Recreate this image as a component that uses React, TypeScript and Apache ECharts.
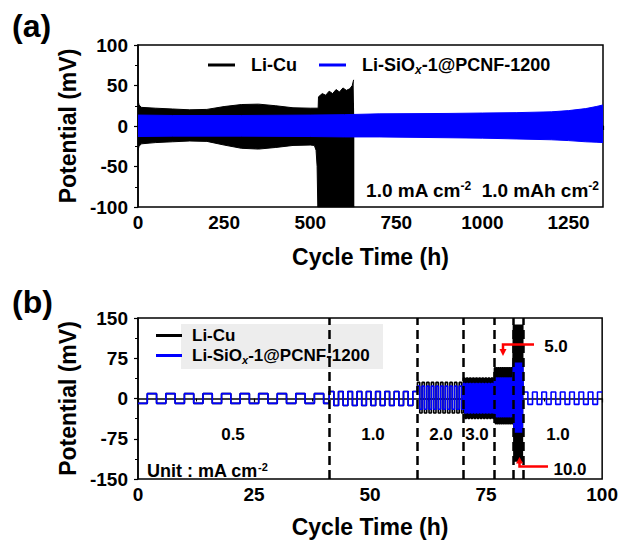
import React, { useEffect, useRef } from 'react';
import * as echarts from 'echarts';

const FONT = '"Liberation Sans", Arial, Helvetica, sans-serif';
const CU = 'Li-Cu';
const SI = 'Li-SiOx-1@PCNF-1200';
const BLUE = '#0000ff';

// ---------- Panel (a): long-term cycling envelopes ----------
const aXMax = 1350;
const aCuUpperT = [0, 3, 10, 50, 100, 150, 200, 250, 300, 350, 400, 450, 500, 523, 524, 535, 545, 555, 565, 575, 585, 595, 605, 615, 622, 626, 628];
const aCuUpperV = [32, 26, 23, 22, 21, 20, 20.5, 24, 26.5, 27, 25, 22.5, 22, 22, 36, 40, 38, 43, 40, 45, 42, 47, 44, 46, 50, 57, 57];
const aCuLowerT = [0, 3, 10, 50, 100, 150, 200, 250, 300, 350, 400, 450, 500, 512, 517, 520, 522, 628];
const aCuLowerV = [-30, -25, -22, -20.5, -19.5, -18.5, -19, -23.5, -27.5, -28.5, -26.5, -24, -23.5, -24, -30, -50, -100, -100];
const aSiT = [0, 100, 300, 500, 600, 700, 900, 1000, 1100, 1200, 1250, 1300, 1330, 1350];
const aSiUpperV = [13.5, 13, 13, 13.5, 14, 15, 15.5, 16, 16.5, 17.5, 19, 21.5, 24, 26];
const aSiLowerV = [-13, -12.5, -12.5, -13, -13.5, -13.5, -14.5, -15, -16, -17, -18, -19.5, -20, -20.5];

// ---------- Panel (b): rate test ----------
const bBounds = [0, 41.2, 60.2, 70.1, 76.8, 80.9, 83.0, 100];
const bRates = [0.5, 1.0, 2.0, 3.0, 5.0, 10.0, 1.0];
const bCapacity = 1.0; // mAh cm-2 per half cycle
const bFirstHigh = [false, true, true, true, true, true, true];
const bSiHigh = [9, 13, 23, 28, 38, 67, 12];
const bSiLow = [-9, -13, -20, -27, -34, -64, -11];
const bCuHigh = [9, 13, 30, 38, 57, 138, null];
const bCuLow = [-9, -13, -27, -37, -47, -118, null];

const zip = (t: number[], v: number[]) => t.map((x, i) => [x, v[i]]);

function steps(high: (number | null)[], low: (number | null)[]) {
  const pts: number[][] = [];
  for (let i = 0; i < bRates.length; i++) {
    if (high[i] == null || low[i] == null) continue;
    const half = bCapacity / bRates[i];
    const end = bBounds[i + 1];
    let t = bBounds[i];
    let up = bFirstHigh[i];
    while (t < end - 1e-9) {
      const tn = Math.min(t + half, end);
      const v = (up ? high[i] : low[i]) as number;
      pts.push([t, v], [tn, v]);
      t = tn;
      up = !up;
    }
  }
  return pts;
}

const axisText = { color: '#000', fontFamily: FONT, fontWeight: 'bold' as const, fontSize: 19 };
const nameText = { color: '#000', fontFamily: FONT, fontWeight: 'bold' as const, fontSize: 23 };

function xAxis(gridIndex: number, max: number, interval: number, showMax: boolean, gap: number) {
  return {
    type: 'value', gridIndex, min: 0, max, interval,
    name: 'Cycle Time (h)', nameLocation: 'middle', nameGap: gap, nameTextStyle: nameText,
    axisLine: { show: true, lineStyle: { color: '#000', width: 1.5 } },
    axisTick: { show: true, inside: false, length: 4, lineStyle: { color: '#000', width: 1.2 } },
    minorTick: { show: true, splitNumber: 2, length: 3, lineStyle: { color: '#000', width: 1 } },
    axisLabel: { ...axisText, margin: 6, showMaxLabel: showMax, formatter: (v: number) => String(v) },
    splitLine: { show: false },
  };
}
function yAxis(gridIndex: number, min: number, max: number, interval: number) {
  return {
    type: 'value', gridIndex, min, max, interval,
    name: 'Potential (mV)', nameLocation: 'middle', nameGap: 55, nameTextStyle: nameText,
    axisLine: { show: true, lineStyle: { color: '#000', width: 1.5 } },
    axisTick: { show: true, inside: false, length: 4, lineStyle: { color: '#000', width: 1.2 } },
    minorTick: { show: true, splitNumber: 2, length: 3, lineStyle: { color: '#000', width: 1 } },
    axisLabel: { ...axisText, margin: 10, formatter: (v: number) => String(v) },
    splitLine: { show: false },
  };
}

const legendRich = {
  n: { fontFamily: FONT, fontWeight: 'bold', fontSize: 18, color: '#000' },
  s: { fontFamily: FONT, fontWeight: 'bold', fontStyle: 'italic', fontSize: 12, color: '#000', padding: [9, 0, 0, 0] },
};
const legendFormatter = (name: string) =>
  name === SI ? '{n|Li-SiO}{s|x}{n|-1@PCNF-1200}' : '{n|' + name + '}';

const supRich = (size: number) => ({
  t: { fontFamily: FONT, fontWeight: 'bold', fontSize: size, fill: '#000' },
  p: { fontFamily: FONT, fontWeight: 'bold', fontSize: Math.round(size * 0.62), fill: '#000', padding: [0, 0, 9, 0] },
});

function txt(x: number, y: number, text: string, size = 17, align = 'center') {
  return {
    type: 'text', x, y, z: 10,
    style: { text, fontFamily: FONT, fontWeight: 'bold', fontSize: size, fill: '#000', align, verticalAlign: 'middle' },
  };
}

export default function App() {
  const ref = useRef<HTMLDivElement>(null);
  useEffect(() => {
    if (!ref.current) return;
    const chart = echarts.init(ref.current, null, { renderer: 'svg' });
    const red = '#ff0000';
    const option: any = {
      animation: false,
      backgroundColor: '#fff',
      grid: [
        { left: 138, top: 45, width: 465, height: 162, show: true, borderColor: '#000', borderWidth: 1.5, backgroundColor: 'transparent' },
        { left: 138, top: 318, width: 465, height: 161, show: true, borderColor: '#000', borderWidth: 1.5, backgroundColor: 'transparent' },
      ],
      xAxis: [xAxis(0, aXMax, 250, false, 38), xAxis(1, 100, 25, true, 36)],
      yAxis: [yAxis(0, -100, 100, 50), yAxis(1, -150, 150, 75)],
      legend: [
        {
          data: [CU, SI], left: 203, top: 51, orient: 'horizontal', itemWidth: 27, itemHeight: 3, itemGap: 22,
          icon: 'rect', formatter: legendFormatter,
          textStyle: { rich: legendRich, padding: [0, 0, 0, 11] },
        },
        {
          data: [CU, SI], left: 151, top: 322, orient: 'vertical', itemWidth: 26, itemHeight: 3, itemGap: 3,
          icon: 'rect', formatter: legendFormatter,
          textStyle: { rich: { n: { ...legendRich.n, fontSize: 17 }, s: { ...legendRich.s, fontSize: 11, padding: [8, 0, 0, 0] } }, padding: [0, 0, 0, 5] },
        },
      ],
      series: [
        { name: CU, type: 'line', xAxisIndex: 0, yAxisIndex: 0, showSymbol: false, symbol: 'none', color: '#000',
          lineStyle: { width: 1, color: '#000' }, areaStyle: { color: '#000', opacity: 1 }, data: zip(aCuUpperT, aCuUpperV) },
        { name: CU, type: 'line', xAxisIndex: 0, yAxisIndex: 0, showSymbol: false, symbol: 'none', color: '#000',
          lineStyle: { width: 1, color: '#000' }, areaStyle: { color: '#000', opacity: 1 }, data: zip(aCuLowerT, aCuLowerV) },
        { name: SI, type: 'line', xAxisIndex: 0, yAxisIndex: 0, showSymbol: false, symbol: 'none', color: BLUE,
          lineStyle: { width: 1, color: BLUE }, areaStyle: { color: BLUE, opacity: 1 }, data: zip(aSiT, aSiUpperV) },
        { name: SI, type: 'line', xAxisIndex: 0, yAxisIndex: 0, showSymbol: false, symbol: 'none', color: BLUE,
          lineStyle: { width: 1, color: BLUE }, areaStyle: { color: BLUE, opacity: 1 }, data: zip(aSiT, aSiLowerV) },
        { name: CU, type: 'line', xAxisIndex: 1, yAxisIndex: 1, showSymbol: false, symbol: 'none', color: '#000',
          lineStyle: { width: 1.6, color: '#000' }, data: steps(bCuHigh, bCuLow) },
        { name: SI, type: 'line', xAxisIndex: 1, yAxisIndex: 1, showSymbol: false, symbol: 'none', color: BLUE,
          lineStyle: { width: 1.6, color: BLUE }, data: steps(bSiHigh, bSiLow),
          markLine: {
            silent: true, symbol: 'none', label: { show: false },
            lineStyle: { color: '#000', width: 2.5, type: [9, 5] },
            data: bBounds.slice(1, -1).map((x) => ({ xAxis: x })),
          } },
      ],
      graphic: [
        { type: 'rect', z: 0, shape: { x: 181, y: 324, width: 202, height: 45 }, style: { fill: '#ededed' } },
        txt(12, 26, '(a)', 32, 'left'),
        txt(12, 302, '(b)', 32, 'left'),
        {
          type: 'text', x: 599, y: 190, z: 10,
          style: { text: '{t|1.0 mA cm}{p|-2}{t|  1.0 mAh cm}{p|-2}', rich: supRich(19), align: 'right', verticalAlign: 'middle' },
        },
        {
          type: 'text', x: 147, y: 471, z: 10,
          style: { text: '{t|Unit : mA cm}{p|-2}', rich: supRich(18), align: 'left', verticalAlign: 'middle' },
        },
        txt(233, 434, '0.5'),
        txt(373, 434, '1.0'),
        txt(441, 434, '2.0'),
        txt(477, 434, '3.0'),
        txt(558, 434, '1.0'),
        txt(556, 346, '5.0'),
        txt(570, 469, '10.0'),
        { type: 'polyline', z: 10, shape: { points: [[534, 344.5], [503, 344.5], [503, 350]] }, style: { stroke: red, lineWidth: 2.5, fill: null } },
        { type: 'polygon', z: 10, shape: { points: [[499.5, 349], [506.5, 349], [503, 356]] }, style: { fill: red } },
        { type: 'polyline', z: 10, shape: { points: [[548, 466.5], [519.5, 466.5], [519.5, 462]] }, style: { stroke: red, lineWidth: 2.5, fill: null } },
        { type: 'polygon', z: 10, shape: { points: [[516, 463.5], [523, 463.5], [519.5, 457]] }, style: { fill: red } },
      ],
    };
    chart.setOption(option);
    return () => chart.dispose();
  }, []);
  return <div ref={ref} style={{ position: 'absolute', left: 0, top: 0, width: 621, height: 546 }} />;
}
